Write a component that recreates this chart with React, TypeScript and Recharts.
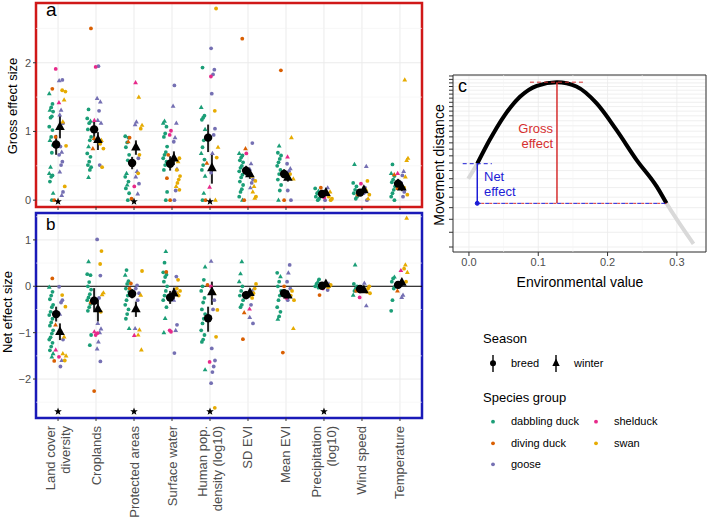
import React from "react";
import {
  ComposedChart,
  Scatter,
  Line,
  XAxis,
  YAxis,
  CartesianGrid,
  ReferenceLine,
  ReferenceArea,
  ReferenceDot,
  ErrorBar,
} from "recharts";

// [factor index, season (b = breed, w = winter), effect size]
type Obs = [number, "b" | "w", number];

const factorLabels = [
  "Land cover\ndiversity",
  "Croplands",
  "Protected areas",
  "Surface water",
  "Human pop.\ndensity (log10)",
  "SD EVI",
  "Mean EVI",
  "Precipitation\n(log10)",
  "Wind speed",
  "Temperature",
];

const groupNames = ["dabbling duck", "diving duck", "goose", "shelduck", "swan"];
const groupColors = ["#1B9E77", "#D95F02", "#7570B3", "#E7298A", "#E6AB02"];

// ---- gross effect sizes, by species group ----
const grossDabbling: Obs[] = [
  [0, "w", 1.55], [0, "b", 1.4], [0, "b", 1.35], [0, "w", 1.31], [0, "b", 1.29], [0, "b", 1.22], [0, "b", 1.2],
  [0, "b", 1.07], [0, "b", 1.02], [0, "b", 0.92], [0, "w", 0.87], [0, "b", 0.8], [0, "b", 0.69], [0, "w", 0.48],
  [0, "w", 0.39], [0, "b", 0.36], [0, "b", 0.34], [0, "b", 0.27], [0, "w", 0.1], [0, "b", 0.0],
  [1, "b", 1.32], [1, "b", 1.19], [1, "w", 1.15], [1, "b", 1.12], [1, "b", 1.03], [1, "b", 0.92], [1, "b", 0.87],
  [1, "w", 0.78], [1, "b", 0.68], [1, "b", 0.63], [1, "b", 0.56], [1, "b", 0.51], [1, "b", 0.48], [1, "b", 0.44], [1, "w", 0.33],
  [2, "b", 0.93], [2, "b", 0.91], [2, "b", 0.84], [2, "b", 0.77], [2, "b", 0.66], [2, "b", 0.58], [2, "w", 0.39],
  [2, "b", 0.34], [2, "b", 0.27], [2, "w", 0.22], [2, "b", 0.17], [2, "b", 0.1], [2, "b", 0.0],
  [3, "w", 1.15], [3, "w", 1.12], [3, "b", 1.07], [3, "b", 0.97], [3, "b", 0.92], [3, "b", 0.78], [3, "b", 0.7],
  [3, "b", 0.66], [3, "b", 0.61], [3, "b", 0.56], [3, "b", 0.51], [3, "b", 0.44], [3, "b", 0.12], [3, "b", 0.0],
  [4, "b", 1.93], [4, "w", 1.35], [4, "b", 1.23], [4, "b", 1.2], [4, "b", 1.17], [4, "w", 1.03], [4, "b", 0.87],
  [4, "b", 0.77], [4, "w", 0.68], [4, "b", 0.59], [4, "b", 0.51], [4, "b", 0.44], [4, "w", 0.35], [4, "w", 0.1], [4, "b", 0.0],
  [5, "w", 0.68], [5, "b", 0.65], [5, "b", 0.62], [5, "b", 0.58], [5, "b", 0.55], [5, "b", 0.5], [5, "b", 0.47],
  [5, "b", 0.42], [5, "b", 0.37], [5, "b", 0.33], [5, "b", 0.27], [5, "b", 0.22], [5, "b", 0.16], [5, "b", 0.12],
  [5, "b", 0.05], [5, "w", 0.0],
  [6, "w", 0.79], [6, "b", 0.69], [6, "b", 0.65], [6, "b", 0.6], [6, "b", 0.55], [6, "b", 0.5], [6, "b", 0.44],
  [6, "b", 0.38], [6, "b", 0.3], [6, "b", 0.22], [6, "b", 0.14], [6, "w", 0.0],
  [7, "b", 0.17], [7, "w", 0.13], [7, "b", 0.1], [7, "b", 0.05], [7, "b", 0.02], [7, "b", 0.0],
  [8, "w", 0.52], [8, "b", 0.25], [8, "b", 0.2], [8, "b", 0.15], [8, "b", 0.1], [8, "b", 0.05], [8, "b", 0.02],
  [9, "b", 0.52], [9, "w", 0.39], [9, "b", 0.35], [9, "b", 0.3], [9, "b", 0.26], [9, "b", 0.2], [9, "b", 0.15],
  [9, "b", 0.1], [9, "b", 0.05], [9, "b", 0.0],
];

const grossDiving: Obs[] = [
  [0, "b", 1.62], [0, "b", 0.92], [0, "b", 0.0],
  [1, "b", 2.5], [1, "w", 0.9], [1, "w", 0.75],
  [2, "b", 0.91], [2, "w", 0.85], [2, "b", 0.02],
  [3, "b", 0.66], [3, "b", 0.32], [3, "b", 0.0],
  [4, "w", 0.54], [4, "b", 0.0],
  [5, "b", 2.35], [5, "w", 0.75], [5, "b", 0.0],
  [6, "b", 1.89], [6, "b", 0.0],
  [7, "b", 0.18],
  [8, "b", 0.08],
  [9, "w", 0.37], [9, "b", 0.17],
];

const grossGoose: Obs[] = [
  [0, "w", 1.74], [0, "b", 1.75], [0, "w", 1.31], [0, "w", 1.24], [0, "b", 1.12], [0, "w", 0.7], [0, "b", 0.78],
  [0, "b", 0.66], [0, "b", 0.56], [0, "b", 0.51], [0, "w", 0.41], [0, "b", 0.12], [0, "w", 0.07],
  [1, "b", 1.95], [1, "w", 1.48], [1, "w", 1.43], [1, "b", 1.3], [1, "w", 1.16], [1, "w", 1.12], [1, "b", 0.51],
  [2, "w", 1.14], [2, "w", 1.1], [2, "b", 0.61], [2, "w", 0.42], [2, "w", 0.34], [2, "b", 0.24], [2, "w", 0.09],
  [3, "b", 1.67], [3, "w", 1.37], [3, "w", 1.12], [3, "w", 0.91], [3, "b", 0.85], [3, "w", 0.45], [3, "b", 0.14], [3, "b", 0.0],
  [4, "b", 2.21], [4, "b", 1.9], [4, "b", 1.83], [4, "b", 1.55], [4, "b", 1.04], [4, "b", 0.95], [4, "w", 0.68], [4, "b", 0.4],
  [5, "b", 0.83], [5, "w", 0.53], [5, "w", 0.45], [5, "b", 0.3], [5, "b", 0.25], [5, "w", 0.18],
  [6, "b", 0.53], [6, "w", 0.46], [6, "b", 0.42], [6, "b", 0.14], [6, "b", 0.0],
  [7, "w", 0.18], [7, "b", 0.08], [7, "b", 0.0],
  [8, "w", 0.49], [8, "b", 0.18], [8, "b", 0.1], [8, "b", 0.0],
  [9, "w", 0.42], [9, "b", 0.36], [9, "b", 0.25], [9, "b", 0.12], [9, "b", 0.05],
];

const grossShelduck: Obs[] = [
  [0, "b", 1.91], [0, "w", 1.42], [1, "b", 1.94], [1, "w", 1.16], [2, "w", 1.71], [2, "b", 0.2],
  [3, "b", 1.01], [3, "b", 0.95], [4, "b", 1.8], [4, "w", 0.19], [5, "b", 0.68], [6, "w", 0.63],
  [7, "b", 0.04], [8, "b", 0.24], [9, "w", 0.39],
];

const grossSwan: Obs[] = [
  [0, "b", 1.6], [0, "b", 1.58], [0, "w", 1.46], [0, "w", 1.14], [0, "b", 0.79], [0, "b", 0.2],
  [1, "w", 0.87], [1, "b", 0.82], [1, "b", 0.75], [1, "b", 0.48],
  [2, "w", 1.5], [2, "w", 1.09], [2, "b", 1.04], [2, "b", 0.66], [2, "b", 0.39],
  [3, "b", 0.61], [3, "w", 0.56], [3, "b", 0.44], [3, "b", 0.35], [3, "b", 0.3], [3, "b", 0.25], [3, "w", 0.2], [3, "b", 0.15],
  [4, "b", 2.79], [4, "b", 1.3], [4, "w", 0.77], [4, "b", 0.62], [4, "w", 0.0],
  [5, "w", 0.35], [5, "b", 0.28], [5, "w", 0.2], [5, "w", 0.12], [5, "b", 0.05], [5, "w", 0.03],
  [6, "w", 0.91], [6, "b", 0.38], [6, "w", 0.31],
  [7, "w", 0.12], [7, "b", 0.05], [7, "b", 0.02], [7, "b", 0.0],
  [8, "b", 0.28], [8, "w", 0.15], [8, "b", 0.08], [8, "w", 0.02],
  [9, "w", 1.75], [9, "w", 0.61], [9, "w", 0.58], [9, "w", 0.34], [9, "b", 0.18], [9, "b", 0.08],
];

// ---- net effect sizes, by species group ----
const netDabbling: Obs[] = [
  [0, "w", -0.02], [0, "b", -0.12], [0, "b", -0.2], [0, "b", -0.28], [0, "b", -0.4], [0, "b", -0.45], [0, "b", -0.55],
  [0, "b", -0.62], [0, "b", -0.7], [0, "b", -0.78], [0, "b", -0.85], [0, "b", -0.95], [0, "b", -1.02], [0, "b", -1.1],
  [0, "b", -1.15], [0, "b", -1.22], [0, "b", -1.3], [0, "b", -1.38], [0, "w", -1.45], [0, "w", -1.52],
  [1, "w", 0.53], [1, "b", 0.26], [1, "b", 0.24], [1, "b", 0.09], [1, "b", 0.0], [1, "b", -0.07], [1, "b", -0.17],
  [1, "b", -0.24], [1, "b", -0.3], [1, "b", -0.38], [1, "b", -0.45], [1, "b", -0.53], [1, "b", -1.05], [1, "b", -1.27],
  [2, "b", 0.35], [2, "w", 0.24], [2, "b", 0.11], [2, "b", 0.05], [2, "b", -0.05], [2, "b", -0.12], [2, "b", -0.2],
  [2, "b", -0.3], [2, "b", -0.4], [2, "b", -0.5], [2, "b", -0.6], [2, "b", -0.7], [2, "w", -0.91],
  [3, "w", 0.75], [3, "b", 0.51], [3, "b", 0.3], [3, "b", 0.25], [3, "b", 0.2], [3, "b", 0.1], [3, "b", 0.0],
  [3, "b", -0.1], [3, "b", -0.2], [3, "b", -0.3], [3, "b", -0.45], [3, "w", -0.69], [3, "w", -1.0],
  [4, "w", 0.42], [4, "b", 0.14], [4, "b", 0.0], [4, "b", -0.1], [4, "b", -0.25], [4, "b", -0.35], [4, "b", -0.5],
  [4, "b", -0.6], [4, "b", -0.7], [4, "b", -0.8], [4, "b", -0.95], [4, "b", -1.05], [4, "b", -1.15], [4, "b", -1.2], [4, "w", -1.8],
  [5, "w", 0.53], [5, "w", 0.27], [5, "w", 0.1], [5, "b", 0.0], [5, "b", -0.1], [5, "b", -0.2], [5, "b", -0.3],
  [5, "b", -0.4], [5, "b", -0.45],
  [6, "b", 0.29], [6, "w", 0.21], [6, "b", 0.1], [6, "b", 0.0], [6, "b", -0.1], [6, "b", -0.2], [6, "b", -0.3],
  [6, "b", -0.45], [6, "b", -0.55], [6, "b", -0.65], [6, "w", -0.71],
  [7, "b", 0.15], [7, "w", 0.1], [7, "b", 0.05], [7, "b", 0.0], [7, "b", -0.03],
  [8, "w", 0.46], [8, "b", 0.05], [8, "b", 0.0], [8, "b", -0.05], [8, "b", -0.1], [8, "w", -0.19],
  [9, "w", 0.2], [9, "b", 0.17], [9, "b", 0.1], [9, "b", 0.0], [9, "b", -0.05], [9, "b", -0.3], [9, "b", -0.53],
];

const netDiving: Obs[] = [
  [0, "b", 0.17], [0, "w", -0.83], [0, "b", -1.61],
  [1, "b", -0.35], [1, "b", -2.26],
  [2, "b", 0.06], [2, "b", -0.05],
  [3, "b", 0.31],
  [4, "b", 0.03],
  [5, "w", -0.57], [5, "b", -1.14],
  [6, "b", 0.0], [6, "b", -1.43],
  [7, "b", -0.19],
  [8, "b", -0.1],
  [9, "w", -0.1],
];

const netGoose: Obs[] = [
  [0, "b", -0.01], [0, "b", -0.3], [0, "b", -0.35], [0, "w", -0.6], [0, "b", -1.15], [0, "w", -1.6], [0, "b", -1.73],
  [1, "b", 1.01], [1, "b", 0.23], [1, "b", -0.25], [1, "w", -0.8], [1, "w", -0.92], [1, "w", -1.0], [1, "w", -1.2],
  [1, "w", -1.35], [1, "b", -1.62],
  [2, "b", 0.02], [2, "b", -0.05], [2, "b", -0.15], [2, "b", -0.3], [2, "w", -0.5], [2, "w", -0.91],
  [3, "b", 0.21], [3, "w", -0.1], [3, "w", -0.3], [3, "b", -0.83], [3, "w", -0.95], [3, "b", -1.44],
  [4, "w", 0.54], [4, "b", -0.3], [4, "b", -0.5], [4, "b", -1.34], [4, "b", -1.6], [4, "b", -1.73], [4, "b", -1.85], [4, "b", -2.09],
  [5, "w", -0.1], [5, "b", -0.4], [5, "w", -0.67], [5, "b", -0.8],
  [6, "b", 0.46], [6, "w", 0.29], [6, "b", 0.1], [6, "b", -0.05], [6, "b", -0.2], [6, "b", -0.3],
  [7, "w", 0.05], [7, "b", -0.08],
  [8, "w", 0.07], [8, "b", -0.1], [8, "w", -0.42],
  [9, "w", -0.19], [9, "w", -0.24],
];

const netShelduck: Obs[] = [
  [0, "w", -1.37], [0, "b", -1.52], [1, "b", -1.05], [1, "w", -0.98], [1, "b", -1.01], [2, "w", -1.06],
  [3, "b", -0.98], [3, "b", -0.95], [4, "b", 0.0], [4, "b", -1.63], [5, "b", -0.18], [5, "w", -0.49],
  [6, "b", -0.25], [7, "b", -0.05], [8, "b", -0.24], [9, "w", 0.34],
];

const netSwan: Obs[] = [
  [0, "b", -0.19], [0, "b", -0.44], [0, "w", -1.09], [0, "w", -1.45], [0, "w", -1.5], [0, "b", -1.6],
  [1, "b", 0.76], [1, "b", 0.48], [1, "w", -0.14], [1, "w", -0.18], [1, "b", -0.55],
  [2, "b", 0.33], [2, "w", -0.19], [2, "w", -0.94], [2, "w", -1.05], [2, "w", -1.37],
  [3, "b", 0.14], [3, "b", -0.05], [3, "b", -0.1], [3, "b", -0.2], [3, "w", -0.15],
  [4, "w", -0.15], [4, "b", -0.51], [4, "b", -1.09], [4, "b", -2.62],
  [5, "b", 0.05], [5, "b", -0.05], [5, "b", -0.15], [5, "b", -0.25],
  [6, "w", -0.91], [6, "b", -0.1], [6, "b", -0.2], [6, "b", -0.3],
  [7, "b", 0.03], [7, "b", 0.0], [7, "b", -0.02],
  [8, "b", 0.0], [8, "b", -0.05], [8, "b", -0.12], [8, "b", -0.15],
  [9, "w", 1.47], [9, "w", 0.46], [9, "b", 0.38], [9, "w", 0.3], [9, "b", 0.1],
];

// ---- model estimates (mean with 95% interval) per factor ----
const grossBreedMean = [0.81, 1.03, 0.54, 0.53, 0.91, 0.43, 0.38, 0.09, 0.11, 0.24];
const grossBreedLow = [0.66, 0.87, 0.45, 0.43, 0.7, 0.36, 0.32, 0.06, 0.08, 0.18];
const grossBreedHigh = [0.95, 1.16, 0.63, 0.64, 1.1, 0.5, 0.45, 0.13, 0.15, 0.31];
const grossWinterMean = [1.07, 0.88, 0.77, 0.61, 0.47, 0.38, 0.33, 0.11, 0.15, 0.19];
const grossWinterLow = [0.9, 0.73, 0.66, 0.51, 0.24, 0.31, 0.27, 0.08, 0.1, 0.13];
const grossWinterHigh = [1.23, 0.99, 0.87, 0.71, 0.67, 0.45, 0.4, 0.15, 0.2, 0.26];

const netBreedMean = [-0.6, -0.31, -0.16, -0.24, -0.69, -0.19, -0.15, 0.01, -0.06, 0.03];
const netBreedLow = [-0.76, -0.55, -0.26, -0.38, -0.98, -0.28, -0.24, -0.04, -0.12, -0.04];
const netBreedHigh = [-0.44, -0.04, -0.06, -0.1, -0.44, -0.1, -0.07, 0.06, 0.0, 0.1];
const netWinterMean = [-0.98, -0.49, -0.49, -0.15, -0.12, -0.14, -0.19, 0.05, -0.08, 0.08];
const netWinterLow = [-1.16, -0.76, -0.66, -0.28, -0.4, -0.24, -0.28, 0.0, -0.14, 0.0];
const netWinterHigh = [-0.8, -0.25, -0.33, -0.03, 0.1, -0.05, -0.1, 0.1, -0.02, 0.16];

// factors flagged as significant
const grossStars = [0, 2, 4];
const netStars = [0, 2, 4, 7];

// ---- schematic response curve ----
const envValue = [-0.001, 0.012, 0.03, 0.05, 0.074, 0.098, 0.127, 0.155, 0.184, 0.213, 0.242, 0.271, 0.285, 0.324];
const moveDist = [13.0, 14.9, 18.5, 22.8, 27.4, 30.2, 31.2, 30.0, 25.8, 20.2, 15.4, 12.1, 10.4, 7.2];
const moveTicks = [7, 8, 9, 10, 11, 12, 13, 14, 15, 16, 17, 18, 19, 20, 21, 22, 23, 24, 25, 26, 27, 28, 29, 30, 31, 32, 33];

const FONT = '"Liberation Sans", Arial, Helvetica, sans-serif';
const X_DOMAIN: [number, number] = [-0.58, 9.58];
const FACTOR_TICKS = [0, 1, 2, 3, 4, 5, 6, 7, 8, 9];
const groupDodge = [-0.18, -0.1, 0.08, -0.01, 0.16];

const jitter = (i: number) => (((i * 5) % 7) - 3) * 0.017;

const toPoints = (obs: Obs[], g: number) =>
  obs.map((o, i) => ({ x: o[0] + groupDodge[g] + jitter(i), y: o[2], season: o[1] }));

const toMeans = (mean: number[], low: number[], high: number[], shift: number) =>
  mean.map((m, i) => ({ x: i + shift, y: m, err: [m - low[i], high[i] - m] }));

const center = (p: any) => ({
  cx: p.cx ?? p.x + (p.width ?? 0) / 2,
  cy: p.cy ?? p.y + (p.height ?? 0) / 2,
});

const ObsShape = (p: any) => {
  const { cx, cy } = center(p);
  if (p.payload?.season === "w") {
    return (
      <polygon
        points={`${cx},${cy - 2.6} ${cx - 2.4},${cy + 1.6} ${cx + 2.4},${cy + 1.6}`}
        fill={p.fill}
      />
    );
  }
  return <circle cx={cx} cy={cy} r={1.9} fill={p.fill} />;
};

const BreedShape = (p: any) => {
  const { cx, cy } = center(p);
  return <circle cx={cx} cy={cy} r={4.2} fill="#000" />;
};

const WinterShape = (p: any) => {
  const { cx, cy } = center(p);
  return <polygon points={`${cx},${cy - 5.5} ${cx - 4.8},${cy + 3.3} ${cx + 4.8},${cy + 3.3}`} fill="#000" />;
};

const starPath = (cx: number, cy: number, R: number) => {
  const pts: string[] = [];
  for (let k = 0; k < 10; k++) {
    const r = k % 2 === 0 ? R : R * 0.42;
    const a = -Math.PI / 2 + (k * Math.PI) / 5;
    pts.push(`${cx + r * Math.cos(a)},${cy + r * Math.sin(a)}`);
  }
  return pts.join(" ");
};

const StarShape = (p: any) => {
  const { cx, cy } = center(p);
  return <polygon points={starPath(cx, cy, 4)} fill="#000" />;
};

// tick marks only, no label
const NoLabel = () => <g />;

const FactorTick = (p: any) => {
  const { x, y, payload } = p;
  const lines = factorLabels[payload.value].split("\n");
  const mid = (lines.length - 1) / 2;
  return (
    <g transform={`translate(${x},${y + 3})`}>
      <text transform="rotate(-90)" textAnchor="end" fill="#4d4d4d" fontSize={13}>
        {lines.map((l: string, i: number) => (
          <tspan key={i} x={0} y={(i - mid) * 15 + 4.5}>
            {l}
          </tspan>
        ))}
      </text>
    </g>
  );
};

const fmtSigned = (v: number) => (v < 0 ? `\u2212${-v}` : `${v}`);

type PanelProps = {
  top: number;
  height: number;
  marginTop: number;
  axisHeight: number;
  series: Obs[][];
  breed: ReturnType<typeof toMeans>;
  winter: ReturnType<typeof toMeans>;
  domain: [number, number];
  ticks: number[];
  minor: number[];
  border: string;
  stars: number[];
  starY: number;
  zeroLine?: boolean;
  labels?: boolean;
};

function EffectPanel(props: PanelProps) {
  const { top, height, marginTop, axisHeight, series, breed, winter, domain, ticks, minor, border, stars, starY, zeroLine, labels } = props;
  return (
    <div style={{ position: "absolute", left: 0, top }}>
      <ComposedChart width={430} height={height} margin={{ top: marginTop, right: 8, bottom: 0, left: 0 }}>
        <CartesianGrid stroke="#ebebeb" strokeWidth={1} />
        {minor.map((v) => (
          <ReferenceLine key={v} y={v} stroke="#f3f3f3" strokeWidth={0.6} />
        ))}
        <XAxis
          type="number"
          dataKey="x"
          domain={X_DOMAIN}
          ticks={FACTOR_TICKS}
          interval={0}
          allowDataOverflow
          axisLine={false}
          tickSize={3}
          tickLine={{ stroke: "#333" }}
          height={axisHeight}
          tick={labels ? <FactorTick /> : <NoLabel />}
        />
        <YAxis
          type="number"
          dataKey="y"
          domain={domain}
          ticks={ticks}
          interval={0}
          allowDataOverflow
          axisLine={false}
          width={36}
          tickSize={3}
          tickLine={{ stroke: "#333" }}
          tick={{ fill: "#4d4d4d", fontSize: 11 }}
          tickFormatter={fmtSigned}
        />
        {zeroLine && <ReferenceLine y={0} stroke="#000" strokeWidth={1} />}
        {series.map((obs, g) => (
          <Scatter key={g} data={toPoints(obs, g)} fill={groupColors[g]} shape={ObsShape} isAnimationActive={false} />
        ))}
        <Scatter data={breed} fill="#000" shape={BreedShape} isAnimationActive={false}>
          <ErrorBar dataKey="err" direction="y" width={0} stroke="#222" strokeWidth={2} />
        </Scatter>
        <Scatter data={winter} fill="#000" shape={WinterShape} isAnimationActive={false}>
          <ErrorBar dataKey="err" direction="y" width={0} stroke="#222" strokeWidth={2} />
        </Scatter>
        <Scatter data={stars.map((i) => ({ x: i, y: starY }))} fill="#000" shape={StarShape} isAnimationActive={false} />
        <ReferenceArea
          x1={X_DOMAIN[0]}
          x2={X_DOMAIN[1]}
          y1={domain[0]}
          y2={domain[1]}
          fill="none"
          fillOpacity={0}
          stroke={border}
          strokeWidth={2.5}
          ifOverflow="visible"
        />
      </ComposedChart>
    </div>
  );
}

function CurvePanel() {
  const curve = envValue.map((x, i) => ({ x, y: moveDist[i] }));
  const inner = curve.slice(1, 13);
  const start = curve[1];
  const peak = curve[6];
  const end = curve[12];
  const blue = "#1c1cd6";
  const red = "#d62f2f";
  return (
    <div style={{ position: "absolute", left: 425, top: 65 }}>
      <ComposedChart width={284} height={230} margin={{ top: 10, right: 3, bottom: 0, left: 0 }}>
        <CartesianGrid stroke="#ebebeb" strokeWidth={0.8} />
        {[0.05, 0.15, 0.25].map((v) => (
          <ReferenceLine key={v} x={v} stroke="#f3f3f3" strokeWidth={0.6} />
        ))}
        <XAxis
          type="number"
          dataKey="x"
          domain={[-0.023, 0.342]}
          ticks={[0, 0.1, 0.2, 0.3]}
          interval={0}
          allowDataOverflow
          axisLine={false}
          tickSize={4}
          tickLine={{ stroke: "#333" }}
          tick={{ fill: "#4d4d4d", fontSize: 11 }}
          tickFormatter={(v: number) => v.toFixed(1)}
          height={43}
        />
        <YAxis
          type="number"
          dataKey="y"
          scale="log"
          domain={[6.69, 33.3]}
          ticks={moveTicks}
          interval={0}
          allowDataOverflow
          axisLine={false}
          tick={<NoLabel />}
          tickSize={4}
          tickLine={{ stroke: "#333" }}
          width={28}
        />
        <Line data={curve} dataKey="y" type="monotone" stroke="#d9d9d9" strokeWidth={4} dot={false} isAnimationActive={false} />
        <Line data={inner} dataKey="y" type="monotone" stroke="#000" strokeWidth={4} dot={false} isAnimationActive={false} />
        <ReferenceLine segment={[{ x: 0.088, y: peak.y }, { x: 0.167, y: peak.y }]} stroke={red} strokeDasharray="4 3" strokeWidth={1} />
        <ReferenceLine segment={[{ x: peak.x, y: peak.y }, { x: peak.x, y: end.y }]} stroke={red} strokeWidth={1.5} />
        <ReferenceLine segment={[{ x: start.x, y: end.y }, { x: end.x, y: end.y }]} stroke={blue} strokeDasharray="4 4" strokeWidth={1} />
        <ReferenceLine
          segment={[{ x: start.x, y: end.y }, { x: end.x, y: end.y }]}
          stroke={red}
          strokeDasharray="3 5"
          strokeDashoffset={-4}
          strokeWidth={1}
        />
        <ReferenceLine segment={[{ x: -0.009, y: start.y }, { x: 0.033, y: start.y }]} stroke={blue} strokeDasharray="4 3" strokeWidth={1} />
        <ReferenceLine segment={[{ x: start.x, y: start.y }, { x: start.x, y: end.y }]} stroke={blue} strokeWidth={1.5} />
        <ReferenceDot x={start.x} y={end.y} r={2} fill={blue} stroke={blue} />
        <ReferenceArea
          x1={-0.023}
          x2={0.342}
          y1={6.69}
          y2={33.3}
          fill="none"
          fillOpacity={0}
          stroke="#333"
          strokeWidth={1}
          ifOverflow="visible"
        />
      </ComposedChart>
    </div>
  );
}

function Overlay() {
  const legendRows = [
    { g: 0, x: 493, y: 421.7 },
    { g: 1, x: 493, y: 443.3 },
    { g: 2, x: 493, y: 464.3 },
    { g: 3, x: 596, y: 421.7 },
    { g: 4, x: 596, y: 443.3 },
  ];
  return (
    <svg
      width={709}
      height={521}
      style={{ position: "absolute", left: 0, top: 0, pointerEvents: "none" }}
      fontFamily={FONT}
    >
      <text x={12} y={106} transform="rotate(-90 12 106)" textAnchor="middle" dominantBaseline="central" fontSize={13}>
        Gross effect size
      </text>
      <text x={7.5} y={312} transform="rotate(-90 7.5 312)" textAnchor="middle" dominantBaseline="central" fontSize={13}>
        Net effect size
      </text>
      <text x={46} y={16} fontSize={19}>a</text>
      <text x={46} y={230} fontSize={17}>b</text>
      <text x={458} y={92} fontSize={18}>c</text>

      <text x={439} y={165} transform="rotate(-90 439 165)" textAnchor="middle" dominantBaseline="central" fontSize={14}>
        Movement distance
      </text>
      <text x={580} y={287} textAnchor="middle" fontSize={14}>
        Environmental value
      </text>

      <text x={553} y={133} textAnchor="end" fontSize={13} fill="#d62f2f">Gross</text>
      <text x={553} y={147.5} textAnchor="end" fontSize={13} fill="#d62f2f">effect</text>
      <text x={484} y={181} fontSize={13} fill="#1c1cd6">Net</text>
      <text x={484} y={195.5} fontSize={13} fill="#1c1cd6">effect</text>

      <text x={483} y={343} fontSize={13}>Season</text>
      <line x1={493} y1={355} x2={493} y2={372} stroke="#000" strokeWidth={1.4} />
      <circle cx={493} cy={363.3} r={3} fill="#000" />
      <text x={511} y={367} fontSize={11}>breed</text>
      <line x1={556} y1={355} x2={556} y2={372} stroke="#000" strokeWidth={1.4} />
      <polygon points="556,358.5 552.3,366 559.7,366" fill="#000" />
      <text x={574} y={367} fontSize={11}>winter</text>

      <text x={483} y={402} fontSize={13}>Species group</text>
      {legendRows.map((r) => (
        <g key={r.g}>
          <circle cx={r.x} cy={r.y} r={1.9} fill={groupColors[r.g]} />
          <text x={r.x + 18} y={r.y + 3.7} fontSize={11}>
            {groupNames[r.g]}
          </text>
        </g>
      ))}
    </svg>
  );
}

export default function App() {
  const grossSeries = [grossDabbling, grossDiving, grossGoose, grossShelduck, grossSwan];
  const netSeries = [netDabbling, netDiving, netGoose, netShelduck, netSwan];
  return (
    <div
      style={{
        position: "absolute",
        left: 0,
        top: 0,
        width: 709,
        height: 521,
        background: "#fff",
        fontFamily: FONT,
        overflow: "hidden",
      }}
    >
      <EffectPanel
        top={0}
        height={215}
        marginTop={3}
        axisHeight={8}
        series={grossSeries}
        breed={toMeans(grossBreedMean, grossBreedLow, grossBreedHigh, -0.05)}
        winter={toMeans(grossWinterMean, grossWinterLow, grossWinterHigh, 0.05)}
        domain={[-0.1, 2.87]}
        ticks={[0, 1, 2]}
        minor={[0.5, 1.5, 2.5]}
        border="#d01818"
        stars={grossStars}
        starY={-0.02}
      />
      <EffectPanel
        top={208}
        height={313}
        marginTop={5}
        axisHeight={103}
        series={netSeries}
        breed={toMeans(netBreedMean, netBreedLow, netBreedHigh, -0.05)}
        winter={toMeans(netWinterMean, netWinterLow, netWinterHigh, 0.05)}
        domain={[-2.84, 1.58]}
        ticks={[-2, -1, 0, 1]}
        minor={[-2.5, -1.5, -0.5, 0.5, 1.5]}
        border="#1a1ab8"
        stars={netStars}
        starY={-2.7}
        zeroLine
        labels
      />
      <CurvePanel />
      <Overlay />
    </div>
  );
}
